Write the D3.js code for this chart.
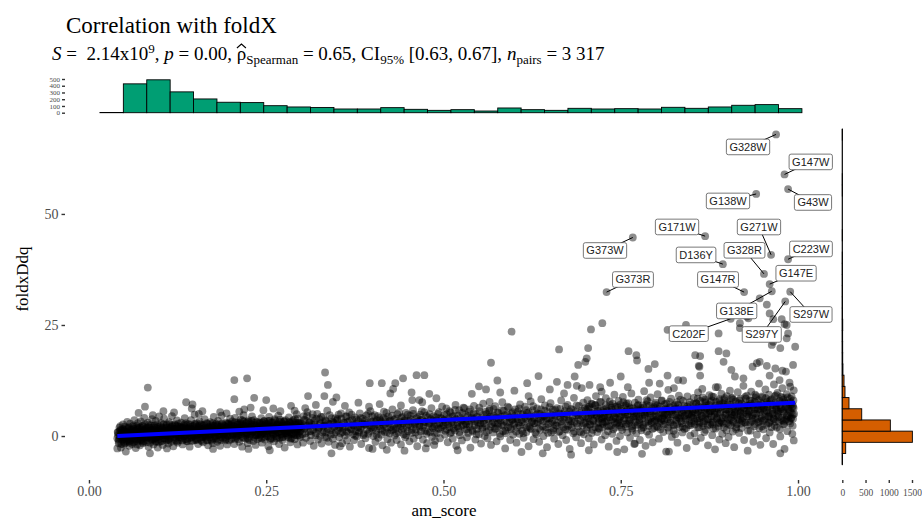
<!DOCTYPE html>
<html>
<head>
<meta charset="utf-8">
<script src="https://cdn.jsdelivr.net/npm/d3@7"></script>
<style>
  body { margin: 0; background: #fff; }
  svg text { font-family: 'Liberation Serif', 'DejaVu Serif', serif; }
</style>
</head>
<body>
<svg id="chart" width="922" height="522"></svg>
<script>
/* ---------------------------- data ---------------------------- */

const xTicks = [0, 0.25, 0.5, 0.75, 1];
const yTicks = [0, 25, 50];
const topHistTicks = [0, 100, 200, 300, 400, 500];
const rightHistTicks = [0, 500, 1000, 1500];

// marginal histogram of am_score (30 bins)
const topBinStart = 0.0155;
const topBinWidth = 0.033;
const topHistCounts = [3, 428, 488, 309, 204, 155, 150, 104, 85, 78, 55, 55, 75, 50, 35,
  45, 25, 70, 45, 35, 65, 55, 60, 55, 80, 65, 85, 110, 120, 60];

// marginal histogram of foldxDdq (30 bins)
const rightBinStart = -6.46;
const rightBinWidth = 2.52;
const rightHistCounts = [2, 73, 1508, 1034, 418, 144, 58, 37, 14, 9, 8, 7, 9, 4, 2,
  5, 1, 2, 2, 0, 2, 0, 0, 0, 2, 1, 0, 0, 0, 1];

// linear fit
const fitLine = { intercept: -0.31, slope: 7.86 };

// scatter, spread of the cloud: [am_score, foldxDdq]
const cloudPoints = [
  // 0.04 - 0.10
  [0.040,-0.5],[0.041,0.8],[0.042,-1.6],[0.043,1.9],[0.044,0.1],[0.045,-2.6],[0.046,1.2],[0.047,-0.9],[0.048,2.6],[0.048,0.4],[0.049,-1.9],[0.049,1.5],
  [0.050,-0.2],[0.051,2.1],[0.052,-3.5],[0.052,0.9],[0.053,-1.3],[0.054,3.2],[0.055,0.2],[0.056,-0.7],[0.056,1.7],[0.057,-2.2],[0.058,2.8],[0.059,0.6],[0.059,-1.0],
  [0.060,1.3],[0.061,-1.8],[0.062,0.0],[0.063,2.4],[0.064,-0.6],[0.064,3.6],[0.065,1.0],[0.066,-2.7],[0.067,0.5],[0.068,1.9],[0.068,-1.2],[0.069,2.9],[0.069,0.2],
  [0.070,-0.4],[0.071,1.6],[0.072,-2.1],[0.072,0.9],[0.073,3.3],[0.074,-0.9],[0.075,2.2],[0.076,0.3],[0.076,-1.6],[0.077,1.2],[0.078,4.1],[0.079,-0.2],[0.079,2.6],
  [0.080,0.7],[0.081,-1.4],[0.082,1.9],[0.083,-0.3],[0.083,3.0],[0.084,-2.4],[0.085,1.1],[0.086,0.1],[0.086,-3.9],[0.087,2.4],[0.088,-0.8],[0.089,1.5],[0.089,3.8],
  [0.090,0.4],[0.091,-1.9],[0.092,2.2],[0.093,-0.5],[0.093,1.0],[0.094,3.4],[0.095,-1.2],[0.096,0.8],[0.097,2.7],[0.097,-2.6],[0.098,1.6],[0.099,-0.1],[0.099,4.4],
  [0.070,5.2],[0.079,6.6],[0.083,10.9],[0.090,4.7],[0.040,-2.8],
  // 0.10 - 0.20
  [0.100,1.2],[0.101,-1.1],[0.102,2.9],[0.103,0.3],[0.104,-2.0],[0.105,1.8],[0.106,3.9],[0.107,0.7],[0.108,-0.6],[0.109,2.3],
  [0.110,0.0],[0.111,1.4],[0.112,-1.7],[0.113,3.1],[0.114,0.9],[0.115,-0.4],[0.116,2.0],[0.117,4.5],[0.118,1.1],[0.119,-2.3],
  [0.120,0.5],[0.121,2.6],[0.122,-0.9],[0.123,1.6],[0.124,3.5],[0.125,-1.5],[0.126,0.2],[0.127,2.1],[0.128,1.0],[0.129,-0.3],
  [0.130,3.0],[0.131,0.8],[0.132,-1.9],[0.133,1.9],[0.134,0.0],[0.135,4.0],[0.136,-0.7],[0.137,2.4],[0.138,1.3],[0.139,-1.2],
  [0.140,2.7],[0.141,0.4],[0.142,-2.4],[0.143,1.5],[0.144,3.6],[0.145,-0.2],[0.146,0.9],[0.147,2.2],[0.148,-1.0],[0.149,4.8],
  [0.150,1.1],[0.151,-0.6],[0.152,2.9],[0.153,0.3],[0.154,-1.8],[0.155,1.8],[0.156,3.3],[0.157,0.6],[0.158,-0.9],[0.159,2.5],
  [0.160,1.4],[0.161,-1.4],[0.162,0.1],[0.163,3.8],[0.164,2.0],[0.165,-0.4],[0.166,1.0],[0.167,2.8],[0.168,-2.1],[0.169,0.7],
  [0.170,1.7],[0.171,3.1],[0.172,-0.8],[0.173,0.4],[0.174,2.3],[0.175,-1.6],[0.176,4.3],[0.177,1.2],[0.178,-0.1],[0.179,2.6],
  [0.180,0.9],[0.181,-1.3],[0.182,3.4],[0.183,1.6],[0.184,0.2],[0.185,-2.2],[0.186,2.1],[0.187,4.6],[0.188,1.0],[0.189,-0.5],
  [0.190,2.4],[0.191,0.5],[0.192,-1.0],[0.193,3.0],[0.194,1.3],[0.195,-1.9],[0.196,0.0],[0.197,2.7],[0.198,1.8],[0.199,3.9],
  [0.137,7.6],[0.146,7.1],[0.145,6.2],[0.120,5.3],[0.160,5.6],[0.194,5.1],[0.175,-2.9],[0.110,-2.8],[0.155,5.0],[0.185,5.4],[0.105,5.6],
  // 0.20 - 0.30
  [0.200,1.5],[0.201,-0.7],[0.202,3.3],[0.203,0.6],[0.204,2.2],[0.205,-1.8],[0.206,4.1],[0.207,1.1],[0.208,-0.2],
  [0.210,2.6],[0.211,0.3],[0.212,-1.3],[0.213,1.9],[0.214,3.7],[0.215,0.9],[0.216,-2.4],[0.217,2.3],[0.218,4.7],
  [0.220,1.2],[0.221,-0.6],[0.222,2.9],[0.223,0.4],[0.224,-1.6],[0.225,3.5],[0.226,1.7],[0.227,-0.1],[0.228,2.1],
  [0.230,4.4],[0.231,0.8],[0.232,-1.1],[0.233,2.5],[0.234,1.4],[0.235,-2.0],[0.236,3.1],[0.237,0.2],[0.238,1.8],
  [0.240,-0.4],[0.241,2.8],[0.242,1.0],[0.243,4.0],[0.244,-1.5],[0.245,0.6],[0.246,2.2],[0.247,3.4],[0.248,-0.8],
  [0.250,1.6],[0.251,0.0],[0.252,2.7],[0.253,-2.3],[0.254,4.3],[0.255,1.3],[0.256,-0.5],[0.257,3.0],[0.258,0.9],
  [0.260,2.0],[0.261,-1.2],[0.262,3.8],[0.263,0.5],[0.264,1.7],[0.265,-0.2],[0.266,2.6],[0.267,4.6],[0.268,-1.8],
  [0.270,1.1],[0.271,3.2],[0.272,0.3],[0.273,-0.9],[0.274,2.4],[0.275,1.5],[0.276,-2.6],[0.277,3.6],[0.278,0.7],
  [0.280,2.1],[0.281,-0.3],[0.282,4.2],[0.283,1.2],[0.284,-1.4],[0.285,2.9],[0.286,0.4],[0.287,3.3],[0.288,1.9],
  [0.290,-0.7],[0.291,2.5],[0.292,0.9],[0.293,4.9],[0.294,-1.9],[0.295,1.6],[0.296,3.0],[0.297,0.1],[0.298,2.2],
  [0.205,12.6],[0.223,13.0],[0.205,8.3],[0.233,8.6],[0.250,8.1],[0.219,6.0],[0.228,6.4],[0.260,6.2],[0.270,5.6],[0.285,6.8],
  [0.246,5.8],[0.212,5.5],[0.290,5.7],[0.255,-3.2],[0.225,-2.9],
  // 0.30 - 0.50
  [0.300,2.8],[0.301,0.4],[0.302,-1.5],[0.303,4.5],[0.304,1.7],[0.305,3.6],[0.306,-0.4],[0.307,2.2],[0.308,5.4],
  [0.310,1.0],[0.311,3.1],[0.312,-1.1],[0.313,0.2],[0.314,2.6],[0.315,4.1],[0.316,1.4],[0.317,-2.2],[0.318,3.4],
  [0.320,0.7],[0.321,2.0],[0.322,5.0],[0.323,-0.8],[0.324,1.8],[0.325,3.8],[0.326,0.0],[0.327,2.9],[0.328,-1.7],
  [0.330,4.3],[0.331,1.2],[0.332,2.4],[0.333,-0.2],[0.334,3.3],[0.335,0.8],[0.336,5.7],[0.337,1.6],[0.338,-1.3],
  [0.340,2.7],[0.341,0.3],[0.342,4.0],[0.343,1.9],[0.344,-0.6],[0.345,3.0],[0.346,2.1],[0.347,-2.0],[0.348,0.9],
  [0.350,3.5],[0.351,1.3],[0.352,4.8],[0.353,-0.3],[0.354,2.3],[0.355,0.6],[0.356,3.9],[0.357,-1.6],[0.358,1.7],
  [0.360,2.9],[0.361,0.1],[0.362,4.4],[0.363,1.0],[0.364,-1.0],[0.365,3.2],[0.366,2.0],[0.367,5.3],[0.368,-2.4],
  [0.370,1.5],[0.371,3.7],[0.372,0.4],[0.373,2.5],[0.374,-0.9],[0.375,4.2],[0.376,1.1],[0.377,2.8],[0.378,-0.1],
  [0.380,3.4],[0.381,0.8],[0.382,5.1],[0.383,1.8],[0.384,-1.8],[0.385,2.2],[0.386,3.9],[0.387,0.2],[0.388,2.6],
  [0.390,-0.5],[0.391,4.6],[0.392,1.4],[0.393,3.0],[0.394,0.5],[0.395,-2.7],[0.396,2.3],[0.397,5.6],[0.398,1.9],
  [0.400,3.3],[0.401,0.0],[0.402,2.0],[0.403,4.7],[0.404,-1.3],[0.405,1.2],[0.406,3.6],[0.407,2.7],[0.408,-0.4],
  [0.410,4.1],[0.411,1.6],[0.412,0.3],[0.413,3.1],[0.414,-2.1],[0.415,2.4],[0.416,5.5],[0.417,0.9],[0.418,3.8],
  [0.420,1.9],[0.421,-0.7],[0.422,4.4],[0.423,2.8],[0.424,0.6],[0.425,3.5],[0.426,-1.5],[0.427,1.3],[0.428,6.0],
  [0.430,2.2],[0.431,0.1],[0.432,3.9],[0.433,1.7],[0.434,-0.9],[0.435,4.9],[0.436,2.5],[0.437,0.8],[0.438,3.2],
  [0.440,-1.9],[0.441,1.4],[0.442,4.3],[0.443,2.9],[0.444,0.4],[0.445,3.6],[0.446,-0.3],[0.447,5.2],[0.448,2.0],
  [0.450,1.1],[0.451,3.4],[0.452,-1.2],[0.453,4.6],[0.454,2.3],[0.455,0.7],[0.456,3.0],[0.457,5.8],[0.458,-0.6],
  [0.460,2.6],[0.461,1.5],[0.462,4.0],[0.463,-2.3],[0.464,3.3],[0.465,0.2],[0.466,2.1],[0.467,4.8],[0.468,1.0],
  [0.470,3.7],[0.471,-0.8],[0.472,2.4],[0.473,5.4],[0.474,1.2],[0.475,3.1],[0.476,0.5],[0.477,-1.6],[0.478,4.2],
  [0.480,2.7],[0.481,0.9],[0.482,3.8],[0.483,6.3],[0.484,-0.2],[0.485,1.8],[0.486,4.5],[0.487,2.2],[0.488,-1.1],
  [0.490,3.5],[0.491,0.6],[0.492,5.0],[0.493,1.7],[0.494,2.9],[0.495,-0.5],[0.496,4.1],[0.497,2.0],[0.498,6.6],
  [0.333,14.3],[0.337,11.5],[0.396,11.9],[0.413,11.9],[0.432,11.9],[0.443,13.0],[0.462,13.7],[0.473,13.7],[0.425,9.6],
  [0.429,10.6],[0.455,9.8],[0.480,9.5],[0.490,8.5],[0.456,8.1],[0.466,8.1],[0.309,9.0],[0.332,9.0],[0.349,8.7],
  [0.344,7.7],[0.361,6.8],[0.342,-3.9],[0.354,-2.3],[0.475,-2.8],[0.487,-2.0],[0.320,7.0],[0.380,7.5],[0.410,7.2],
  [0.440,6.9],[0.470,7.6],[0.305,6.3],[0.395,6.6],[0.420,-3.1],[0.400,-2.9],[0.445,-3.3],
  // 0.50 - 0.70
  [0.500,2.4],[0.501,4.7],[0.502,0.3],[0.503,3.1],[0.504,6.2],[0.505,1.5],[0.506,-1.4],[0.507,3.9],[0.508,2.0],
  [0.510,5.3],[0.511,0.9],[0.512,3.4],[0.513,-0.6],[0.514,2.6],[0.515,4.5],[0.516,1.2],[0.517,7.0],[0.518,-2.2],
  [0.520,3.0],[0.521,1.8],[0.522,5.8],[0.523,0.2],[0.524,4.1],[0.525,2.3],[0.526,-1.0],[0.527,3.6],[0.528,6.4],
  [0.530,1.4],[0.531,4.8],[0.532,2.7],[0.533,-0.3],[0.534,3.3],[0.535,0.7],[0.536,5.5],[0.537,2.1],[0.538,-2.6],
  [0.540,4.2],[0.541,1.0],[0.542,3.7],[0.543,6.8],[0.544,2.5],[0.545,-0.8],[0.546,4.9],[0.547,1.6],[0.548,3.1],
  [0.550,0.4],[0.551,5.6],[0.552,2.9],[0.553,-1.7],[0.554,4.0],[0.555,1.9],[0.556,7.3],[0.557,3.5],[0.558,0.0],
  [0.560,2.3],[0.561,5.0],[0.562,-0.5],[0.563,3.8],[0.564,1.3],[0.565,6.1],[0.566,4.4],[0.567,-2.0],[0.568,2.7],
  [0.570,0.8],[0.571,4.6],[0.572,3.0],[0.573,6.7],[0.574,1.7],[0.575,-1.2],[0.576,5.3],[0.577,2.2],[0.578,3.9],
  [0.580,-0.1],[0.581,4.3],[0.582,2.6],[0.583,7.6],[0.584,1.1],[0.585,5.7],[0.586,3.4],[0.587,-2.8],[0.588,0.6],
  [0.590,4.8],[0.591,2.0],[0.592,6.4],[0.593,3.2],[0.594,-0.9],[0.595,1.5],[0.596,5.1],[0.597,3.7],[0.598,0.3],
  [0.600,2.8],[0.601,6.0],[0.602,4.1],[0.603,-1.5],[0.604,1.9],[0.605,5.5],[0.606,3.0],[0.607,0.5],[0.608,7.1],
  [0.610,3.6],[0.611,1.2],[0.612,4.9],[0.613,-0.4],[0.614,2.5],[0.615,6.6],[0.616,3.9],[0.617,0.9],[0.618,5.2],
  [0.620,-2.3],[0.621,2.1],[0.622,4.4],[0.623,7.8],[0.624,1.6],[0.625,3.3],[0.626,5.8],[0.627,-0.7],[0.628,2.9],
  [0.630,4.7],[0.631,0.4],[0.632,6.2],[0.633,3.1],[0.634,1.8],[0.635,-1.3],[0.636,5.0],[0.637,3.6],[0.638,8.3],
  [0.640,2.2],[0.641,0.0],[0.642,4.5],[0.643,6.9],[0.644,1.4],[0.645,3.8],[0.646,-2.5],[0.647,5.4],[0.648,2.7],
  [0.650,4.0],[0.651,7.4],[0.652,0.8],[0.653,3.3],[0.654,5.9],[0.655,1.7],[0.656,-0.6],[0.657,4.6],[0.658,2.4],
  [0.660,6.3],[0.661,3.0],[0.662,-1.8],[0.663,5.1],[0.664,1.1],[0.665,4.2],[0.666,8.0],[0.667,2.6],[0.668,0.2],
  [0.670,3.7],[0.671,5.6],[0.672,1.5],[0.673,-0.9],[0.674,4.9],[0.675,7.0],[0.676,2.3],[0.677,3.4],[0.678,-2.9],
  [0.680,6.1],[0.681,1.9],[0.682,4.3],[0.683,0.6],[0.684,8.6],[0.685,3.2],[0.686,5.3],[0.687,-0.3],[0.688,2.8],
  [0.690,4.7],[0.691,6.8],[0.692,1.0],[0.693,3.5],[0.694,-1.6],[0.695,5.7],[0.696,2.4],[0.697,7.5],[0.698,0.4],
  [0.596,23.5],[0.567,16.5],[0.576,12.5],[0.618,11.9],[0.634,13.5],[0.660,12.2],[0.663,19.5],[0.685,13.4],[0.690,16.0],
  [0.565,7.7],[0.540,9.5],[0.560,10.5],[0.580,9.8],[0.600,10.2],[0.620,9.0],[0.650,10.5],[0.670,9.6],[0.695,10.8],
  [0.520,-3.2],[0.610,-3.6],[0.640,-3.9],[0.680,-4.2],[0.550,11.2],[0.675,11.5],
  // 0.70 - 0.85
  [0.700,3.0],[0.701,5.9],[0.702,1.3],[0.703,8.1],[0.704,4.1],[0.705,-0.5],[0.706,6.6],[0.707,2.5],[0.708,4.8],[0.709,0.7],
  [0.710,7.2],[0.711,3.6],[0.712,-1.9],[0.713,5.4],[0.714,2.0],[0.715,9.0],[0.716,4.4],[0.717,0.9],[0.718,6.2],[0.719,3.1],
  [0.720,1.6],[0.721,5.0],[0.722,7.7],[0.723,-0.8],[0.724,3.9],[0.725,2.7],[0.726,6.0],[0.727,4.6],[0.728,0.2],[0.729,8.5],
  [0.730,3.3],[0.731,5.6],[0.732,1.1],[0.733,-2.4],[0.734,4.2],[0.735,7.0],[0.736,2.3],[0.737,6.4],[0.738,0.5],[0.739,3.8],
  [0.740,5.2],[0.741,9.3],[0.742,1.9],[0.743,4.0],[0.744,-1.1],[0.745,6.7],[0.746,3.0],[0.747,7.9],[0.748,2.4],[0.749,0.0],
  [0.750,4.5],[0.751,6.1],[0.752,1.4],[0.753,8.8],[0.754,3.5],[0.755,-3.0],[0.756,5.3],[0.757,2.1],[0.758,7.3],[0.759,0.8],
  [0.760,4.9],[0.761,2.8],[0.762,6.5],[0.763,-0.4],[0.764,3.7],[0.765,9.6],[0.766,1.7],[0.767,5.6],[0.768,4.1],[0.769,-1.8],
  [0.770,7.5],[0.771,3.2],[0.772,0.6],[0.773,5.9],[0.774,2.6],[0.775,8.2],[0.776,4.3],[0.777,-0.9],[0.778,6.3],[0.779,1.3],
  [0.780,3.9],[0.781,6.9],[0.782,2.0],[0.783,10.1],[0.784,4.7],[0.785,-2.2],[0.786,5.4],[0.787,1.0],[0.788,7.8],[0.789,3.3],
  [0.790,0.3],[0.791,5.0],[0.792,8.7],[0.793,2.9],[0.794,6.2],[0.795,-1.4],[0.796,4.4],[0.797,1.8],[0.798,7.1],[0.799,3.6],
  [0.800,5.7],[0.801,2.2],[0.802,9.4],[0.803,4.0],[0.804,-0.6],[0.805,6.6],[0.806,1.5],[0.807,3.4],[0.808,8.0],[0.809,5.1],
  [0.810,0.9],[0.811,4.6],[0.812,7.2],[0.813,2.7],[0.814,-3.5],[0.815,6.0],[0.816,3.8],[0.817,10.4],[0.818,1.2],[0.819,5.5],
  [0.820,3.0],[0.821,8.4],[0.822,-0.2],[0.823,4.9],[0.824,6.8],[0.825,2.4],[0.826,5.8],[0.827,0.4],[0.828,3.6],[0.829,7.6],
  [0.830,-1.5],[0.831,4.2],[0.832,9.1],[0.833,2.0],[0.834,6.3],[0.835,3.3],[0.836,5.2],[0.837,0.8],[0.838,7.9],[0.839,4.5],
  [0.840,1.6],[0.841,6.1],[0.842,3.9],[0.843,-2.7],[0.844,8.9],[0.845,5.0],[0.846,2.5],[0.847,7.0],[0.848,0.1],[0.849,4.3],
  [0.708,24.0],[0.724,25.4],[0.700,16.7],[0.702,17.5],[0.704,19.8],[0.688,11.3],[0.706,11.5],[0.721,11.0],[0.723,10.0],
  [0.761,19.1],[0.772,18.2],[0.773,17.0],[0.789,15.1],[0.798,16.2],[0.750,13.4],[0.816,13.6],[0.831,12.6],[0.838,12.5],
  [0.842,25.0],[0.816,23.9],[0.818,-3.5],[0.735,12.0],[0.760,11.0],[0.790,12.0],[0.805,11.8],[0.825,10.8],[0.745,-3.6],
  [0.705,-3.2],[0.780,-4.0],[0.770,-1.7],
  // 0.85 - 1.00
  [0.850,2.9],[0.851,6.0],[0.852,4.1],[0.853,8.6],[0.854,0.6],[0.855,5.3],[0.856,-1.2],[0.857,7.3],[0.858,3.4],[0.859,9.8],[0.859,1.9],
  [0.860,5.7],[0.861,3.0],[0.862,7.9],[0.863,-0.4],[0.864,4.6],[0.865,10.6],[0.866,2.3],[0.867,6.5],[0.868,0.9],[0.869,4.0],[0.869,8.2],
  [0.870,1.4],[0.871,6.9],[0.872,3.7],[0.873,-2.1],[0.874,5.1],[0.875,9.2],[0.876,2.6],[0.877,7.6],[0.878,4.4],[0.879,0.2],[0.879,5.9],
  [0.880,3.2],[0.881,8.8],[0.882,5.5],[0.883,-3.0],[0.884,1.7],[0.885,6.3],[0.886,4.0],[0.887,11.0],[0.888,2.1],[0.889,7.1],[0.889,-0.8],
  [0.890,5.0],[0.891,3.5],[0.892,9.5],[0.893,0.5],[0.894,6.7],[0.895,2.8],[0.896,8.1],[0.897,4.7],[0.898,-1.6],[0.899,6.0],[0.899,1.3],
  [0.900,7.4],[0.901,3.9],[0.902,-0.2],[0.903,5.6],[0.904,10.2],[0.905,2.4],[0.906,8.5],[0.907,4.9],[0.908,1.0],[0.909,6.4],[0.909,3.1],
  [0.910,-2.5],[0.911,5.3],[0.912,7.8],[0.913,2.0],[0.914,4.3],[0.915,9.9],[0.916,6.1],[0.917,0.7],[0.918,3.6],[0.919,8.4],[0.919,5.2],
  [0.920,1.8],[0.921,6.6],[0.922,4.0],[0.923,11.3],[0.924,-0.9],[0.925,7.0],[0.926,3.0],[0.927,5.8],[0.928,9.1],[0.929,2.5],[0.929,-3.3],
  [0.930,6.2],[0.931,4.5],[0.932,8.0],[0.933,1.2],[0.934,10.0],[0.935,3.4],[0.936,6.9],[0.937,-1.3],[0.938,5.1],[0.939,2.7],[0.939,7.7],
  [0.940,4.1],[0.941,9.0],[0.942,0.3],[0.943,6.0],[0.944,3.1],[0.945,11.8],[0.946,5.4],[0.947,-2.0],[0.948,7.4],[0.949,2.2],[0.949,4.8],
  [0.950,8.7],[0.951,1.5],[0.952,6.4],[0.953,3.8],[0.954,10.5],[0.955,-0.5],[0.956,5.7],[0.957,7.2],[0.958,2.9],[0.959,4.3],[0.959,9.3],
  [0.960,0.8],[0.961,6.8],[0.962,3.5],[0.963,8.3],[0.964,5.0],[0.965,-1.8],[0.966,11.6],[0.967,2.3],[0.968,7.5],[0.969,4.6],[0.969,6.1],
  [0.970,1.9],[0.971,9.7],[0.972,5.5],[0.973,3.2],[0.974,7.9],[0.975,-0.1],[0.976,6.5],[0.977,4.1],[0.978,10.8],[0.979,2.6],[0.979,8.6],
  [0.980,5.9],[0.981,-2.9],[0.982,7.3],[0.983,3.7],[0.984,9.4],[0.985,1.1],[0.986,6.2],[0.987,4.4],[0.988,12.0],[0.989,2.8],[0.989,7.0],
  [0.990,5.3],[0.991,8.9],[0.992,0.5],[0.993,6.7],[0.993,3.9],[0.994,10.3],[0.994,-1.0],
  [0.855,18.2],[0.862,18.0],[0.860,15.8],[0.861,15.6],[0.862,13.6],[0.884,11.0],[0.888,19.1],[0.899,18.6],[0.895,16.7],
  [0.906,14.9],[0.911,13.4],[0.923,13.0],[0.936,15.6],[0.942,16.4],[0.946,16.7],[0.956,15.8],[0.968,15.2],[0.978,14.7],
  [0.993,16.0],[0.974,12.6],[0.983,14.5],[0.989,11.1],[0.960,13.6],[0.951,23.5],[0.965,21.2],[0.963,20.5],[0.975,19.8],
  [0.984,22.0],[0.986,23.1],[0.996,20.1],[0.888,23.1],[0.918,24.3],[0.918,25.4],[0.930,26.5],[0.928,26.9],[0.946,31.0],
  [0.956,29.6],[0.960,27.6],[0.965,26.3],[0.977,26.3],[0.981,25.2],[0.984,25.0],[0.975,-3.9]
];

// scatter, dense core of the cloud: [am_score, foldxDdq]
const corePoints = [
  [.0405,.9],[.0425,-.8],[.0445,1.4],[.0465,-.2],[.0485,.5],[.0495,-1.3],
  [.0505,1.0],[.0525,-.4],[.0545,.7],[.0565,2.0],[.0575,-1.5],[.0595,.1],
  [.0605,.6],[.0625,1.7],[.0645,-1.1],[.0655,.3],[.0675,2.2],[.0695,-.7],
  [.0705,1.0],[.0725,-.1],[.0745,1.8],[.0755,-1.3],[.0775,.5],[.0795,1.4],
  [.0805,-.6],[.0825,.9],[.0845,2.0],[.0855,-.2],[.0875,1.3],[.0895,-1.0],
  [.0905,.8],[.0925,1.9],[.0945,-.4],[.0955,.5],[.0975,1.1],[.0985,-1.4],
  [.1005,.6],[.1025,1.9],[.1045,-.5],[.1065,1.2],[.1085,.2],[.1095,2.6],
  [.1105,1.0],[.1125,-.8],[.1145,1.7],[.1165,.4],[.1175,2.4],[.1195,-.2],
  [.1205,1.5],[.1225,.1],[.1245,2.2],[.1265,-1.0],[.1275,.9],[.1295,1.9],
  [.1305,-.4],[.1325,1.2],[.1345,2.6],[.1355,.3],[.1375,-1.1],[.1395,1.6],
  [.1405,.8],[.1425,2.0],[.1445,-.3],[.1455,1.3],[.1475,.1],[.1495,2.8],
  [.1505,-.9],[.1525,1.1],[.1545,.4],[.1555,2.3],[.1575,1.5],[.1595,-.2],
  [.1605,.9],[.1625,2.5],[.1645,.0],[.1655,1.6],[.1675,-1.0],[.1695,1.9],
  [.1705,.5],[.1725,1.3],[.1745,2.9],[.1755,-.6],[.1775,.8],[.1795,1.7],
  [.1805,2.2],[.1825,.3],[.1845,1.4],[.1855,-.9],[.1875,2.7],[.1895,.6],
  [.1905,1.2],[.1925,-.3],[.1945,2.0],[.1955,.9],[.1975,2.9],[.1995,.2],
  [.2005,2.4],[.2025,.5],[.2045,1.6],[.2065,-.6],[.2085,3.0],[.2095,1.1],
  [.2105,.2],[.2125,2.8],[.2145,1.3],[.2165,3.5],[.2175,-.4],[.2195,1.8],
  [.2205,2.1],[.2225,.7],[.2245,3.2],[.2265,-.9],[.2275,1.4],[.2295,2.6],
  [.2305,1.0],[.2325,3.6],[.2345,.3],[.2355,2.0],[.2375,-.7],[.2395,1.5],
  [.2405,2.3],[.2425,.4],[.2445,3.0],[.2455,1.2],[.2475,-.2],[.2495,2.7],
  [.2505,.9],[.2525,2.1],[.2545,3.4],[.2555,-.8],[.2575,1.6],[.2595,.5],
  [.2605,3.1],[.2625,1.3],[.2645,-.5],[.2655,2.4],[.2675,.8],[.2695,3.7],
  [.2705,2.0],[.2725,-.3],[.2745,1.4],[.2755,3.3],[.2775,.6],[.2795,2.5],
  [.2805,1.0],[.2825,3.0],[.2845,-.6],[.2855,1.7],[.2875,2.6],[.2895,.3],
  [.2905,3.8],[.2925,1.5],[.2945,.1],[.2955,2.9],[.2975,1.1],[.2995,2.2],
  [.3005,1.9],[.3035,3.7],[.3055,.6],[.3075,4.6],[.3095,2.4],
  [.3105,3.0],[.3125,1.1],[.3155,4.9],[.3175,2.5],[.3195,.2],
  [.3205,3.9],[.3235,1.6],[.3255,2.7],[.3275,4.3],[.3295,.8],
  [.3305,2.2],[.3335,3.5],[.3355,-.4],[.3375,2.9],[.3395,4.7],
  [.3405,1.3],[.3435,3.2],[.3455,.4],[.3475,4.0],[.3495,2.6],
  [.3505,3.8],[.3535,1.9],[.3555,5.1],[.3575,.9],[.3595,3.0],
  [.3605,2.1],[.3635,4.4],[.3655,.7],[.3675,3.4],[.3695,1.6],
  [.3705,4.8],[.3735,2.3],[.3755,.1],[.3775,3.7],[.3795,2.0],
  [.3805,1.2],[.3835,4.1],[.3855,2.8],[.3875,.5],[.3895,3.5],
  [.3905,2.6],[.3935,5.0],[.3955,1.0],[.3975,3.3],[.3995,4.4],
  [.4005,1.7],[.4035,3.0],[.4055,.3],[.4075,4.5],[.4095,2.2],
  [.4105,3.6],[.4135,1.2],[.4155,4.0],[.4175,2.7],[.4195,5.2],
  [.4205,.9],[.4235,3.3],[.4255,2.0],[.4275,4.6],[.4295,1.5],
  [.4305,3.7],[.4335,.6],[.4355,2.9],[.4375,5.3],[.4395,2.2],
  [.4405,4.1],[.4435,1.8],[.4455,3.4],[.4475,.2],[.4495,4.8],
  [.4505,2.6],[.4535,3.8],[.4555,1.4],[.4575,5.0],[.4595,3.0],
  [.4605,.8],[.4635,4.3],[.4655,2.4],[.4675,3.6],[.4695,5.6],
  [.4705,1.9],[.4735,3.2],[.4755,4.6],[.4775,1.0],[.4795,2.8],
  [.4805,4.9],[.4835,2.1],[.4855,3.5],[.4875,.7],[.4895,4.2],
  [.4905,2.5],[.4935,5.4],[.4955,1.6],[.4975,3.9],[.4995,3.0],
  [.5005,3.6],[.5025,1.2],[.5045,4.9],[.5065,2.7],[.5085,5.6],[.5095,.6],
  [.5105,3.0],[.5125,4.4],[.5145,1.7],[.5165,5.9],[.5175,3.8],[.5195,2.2],
  [.5205,4.6],[.5225,.9],[.5245,3.4],[.5265,5.2],[.5275,2.5],[.5295,6.3],
  [.5305,3.1],[.5325,1.5],[.5345,4.5],[.5365,2.6],[.5375,6.0],[.5395,3.9],
  [.5405,1.3],[.5425,5.1],[.5445,3.3],[.5465,.4],[.5475,4.3],[.5495,2.3],
  [.5505,6.4],[.5525,3.6],[.5545,1.6],[.5565,4.8],[.5575,2.9],[.5595,5.5],
  [.5605,.9],[.5625,3.9],[.5645,5.7],[.5665,2.1],[.5675,4.4],[.5695,3.2],
  [.5705,6.1],[.5725,1.6],[.5745,4.0],[.5765,2.8],[.5775,5.2],[.5795,.5],
  [.5805,3.5],[.5825,5.8],[.5845,2.3],[.5865,4.7],[.5875,1.2],[.5895,3.0],
  [.5905,6.6],[.5925,4.2],[.5945,1.9],[.5965,3.6],[.5975,5.4],[.5995,2.6],
  [.6005,4.5],[.6025,1.0],[.6045,3.8],[.6065,6.2],[.6075,2.3],[.6095,5.0],
  [.6105,3.1],[.6125,.6],[.6145,4.2],[.6165,5.8],[.6175,2.0],[.6195,3.7],
  [.6205,5.4],[.6225,1.7],[.6245,3.2],[.6265,6.7],[.6275,4.1],[.6295,.8],
  [.6305,2.8],[.6325,5.1],[.6345,3.9],[.6365,1.4],[.6375,6.0],[.6395,4.4],
  [.6405,3.3],[.6425,5.7],[.6445,2.0],[.6465,4.0],[.6475,.7],[.6495,6.5],
  [.6505,2.9],[.6525,4.8],[.6545,1.2],[.6565,3.6],[.6575,5.9],[.6595,2.3],
  [.6605,4.5],[.6625,.9],[.6645,6.1],[.6665,3.3],[.6675,5.0],[.6695,2.0],
  [.6705,4.2],[.6725,6.6],[.6745,1.4],[.6765,3.8],[.6775,5.5],[.6795,2.6],
  [.6805,3.4],[.6825,5.9],[.6845,1.0],[.6865,4.6],[.6875,6.9],[.6895,2.2],
  [.6905,3.9],[.6925,5.2],[.6945,.8],[.6965,4.4],[.6975,2.9],[.6995,6.3],
  [.7005,4.4],[.7025,2.0],[.7045,6.5],[.7065,3.3],[.7085,7.3],[.7095,5.2],
  [.7105,1.4],[.7125,4.8],[.7145,6.9],[.7165,2.8],[.7175,5.6],[.7195,3.9],
  [.7205,7.6],[.7225,4.2],[.7245,1.9],[.7265,5.4],[.7275,3.2],[.7295,6.2],
  [.7305,2.3],[.7325,4.9],[.7345,7.8],[.7365,3.6],[.7375,5.9],[.7395,1.5],
  [.7405,4.4],[.7425,6.6],[.7445,2.8],[.7465,5.1],[.7475,3.6],[.7495,7.1],
  [.7505,1.9],[.7525,5.6],[.7545,4.0],[.7565,6.9],[.7575,2.7],[.7595,4.8],
  [.7605,7.4],[.7625,3.3],[.7645,5.5],[.7665,1.2],[.7675,6.3],[.7695,4.5],
  [.7705,2.4],[.7725,5.0],[.7745,7.0],[.7765,3.6],[.7775,5.8],[.7795,1.8],
  [.7805,4.6],[.7825,6.4],[.7845,3.0],[.7865,8.1],[.7875,5.2],[.7895,2.3],
  [.7905,6.8],[.7925,4.0],[.7945,1.6],[.7965,5.6],[.7975,3.3],[.7995,7.5],
  [.8005,4.4],[.8025,2.0],[.8045,6.1],[.8065,3.8],[.8075,7.9],[.8095,5.3],
  [.8105,2.6],[.8125,5.0],[.8145,7.3],[.8165,1.9],[.8175,4.2],[.8195,6.5],
  [.8205,3.5],[.8225,5.7],[.8245,1.2],[.8265,7.0],[.8275,4.7],[.8295,2.7],
  [.8305,6.0],[.8325,3.9],[.8345,8.2],[.8365,5.4],[.8375,2.1],[.8395,6.8],
  [.8405,4.6],[.8425,1.8],[.8445,5.9],[.8465,3.4],[.8475,7.6],[.8495,5.0],
  [.8505,4.7],[.8525,7.2],[.8545,2.6],[.8555,6.0],[.8575,3.9],[.8585,8.4],[.8595,5.6],
  [.8605,2.0],[.8625,6.4],[.8645,4.4],[.8655,8.7],[.8675,3.3],[.8685,5.9],[.8695,7.5],
  [.8705,4.9],[.8725,2.4],[.8745,7.0],[.8755,5.5],[.8775,3.0],[.8785,8.9],[.8795,6.3],
  [.8805,1.7],[.8825,4.8],[.8845,7.7],[.8855,3.8],[.8875,6.1],[.8885,2.9],[.8895,8.3],
  [.8905,5.4],[.8925,3.2],[.8945,7.4],[.8955,1.9],[.8975,6.0],[.8985,4.2],[.8995,9.0],
  [.9005,5.9],[.9025,2.6],[.9045,7.0],[.9055,4.1],[.9075,8.6],[.9085,3.4],[.9095,6.7],
  [.9105,4.8],[.9125,1.6],[.9145,6.4],[.9155,3.7],[.9175,8.0],[.9185,5.5],[.9195,2.8],
  [.9205,7.3],[.9225,5.0],[.9245,3.1],[.9255,8.8],[.9275,4.4],[.9285,6.8],[.9295,1.2],
  [.9305,5.3],[.9325,3.0],[.9345,7.9],[.9355,4.7],[.9375,6.5],[.9385,2.2],[.9395,9.3],
  [.9405,6.2],[.9425,3.8],[.9445,8.1],[.9455,1.8],[.9475,5.9],[.9485,4.0],[.9495,7.1],
  [.9505,3.4],[.9525,5.6],[.9545,8.5],[.9555,2.5],[.9575,6.6],[.9585,4.5],[.9595,7.8],
  [.9605,5.1],[.9625,2.0],[.9645,6.9],[.9655,4.0],[.9675,9.0],[.9685,3.2],[.9695,5.8],
  [.9705,7.4],[.9725,4.3],[.9745,1.5],[.9755,6.1],[.9775,3.6],[.9785,8.2],[.9795,5.2],
  [.9805,2.7],[.9825,6.6],[.9845,4.6],[.9855,8.7],[.9875,3.3],[.9885,5.7],[.9895,7.6],
  [.9905,4.1],[.9915,6.4],[.9925,2.3],[.9935,8.0],[.9945,5.0]
];

// scatter, darkest part of the band (left end and right end): [am_score, foldxDdq]
const bandPoints = [
  [.0412,.2],[.0418,-1.1],[.0433,1.1],[.0438,-.4],[.0452,.6],[.0457,-1.8],[.0471,1.6],[.0476,.0],[.0491,-.7],[.0494,1.0],[.0443,2.2],[.0462,.3],
  [.0502,.4],[.0508,-1.6],[.0514,1.3],[.0527,.1],[.0533,-.9],[.0541,1.8],[.0549,-.3],[.0561,.9],[.0568,-1.2],[.0583,.2],[.0588,1.4],[.0597,-.5],
  [.0603,-.4],[.0611,.9],[.0617,2.1],[.0628,-1.4],[.0632,.5],[.0641,1.5],[.0653,-.8],[.0662,.2],[.0671,1.2],[.0679,-1.9],[.0684,.7],[.0693,1.8],
  [.0702,.3],[.0713,-1.0],[.0718,1.9],[.0729,.6],[.0736,-.5],[.0748,1.4],[.0752,.0],[.0763,2.3],[.0771,-1.2],[.0782,.8],[.0788,-.3],[.0797,1.1],
  [.0803,1.7],[.0809,-.9],[.0816,.4],[.0829,1.1],[.0834,-.1],[.0842,2.5],[.0851,.6],[.0862,-1.5],[.0869,1.0],[.0877,-.4],[.0884,1.9],[.0892,.2],
  [.0902,-.7],[.0911,1.3],[.0916,.0],[.0928,2.4],[.0936,-1.3],[.0941,.6],[.0951,1.7],[.0958,-.2],[.0967,.9],[.0979,2.0],[.0983,-.8],[.0991,.4],
  [.1002,.0],[.1011,2.2],[.1018,.9],[.1027,-1.2],[.1036,1.5],[.1042,.4],[.1053,2.6],[.1061,-.5],[.1072,1.0],[.1078,.2],[.1087,1.8],[.1093,-1.0],
  [.1103,1.9],[.1108,.3],[.1121,-.9],[.1129,1.2],[.1136,2.7],[.1143,.0],[.1152,1.4],[.1158,-1.3],[.1169,.7],[.1177,2.1],[.1184,.5],[.1192,1.6],
  [.1202,-.6],[.1213,1.0],[.1219,2.4],[.1228,.4],[.1236,-1.2],[.1241,1.7],[.1253,.8],[.1262,2.8],[.1271,-.3],[.1279,1.3],[.1286,.1],[.1294,2.0],
  [.1303,.5],[.1309,1.8],[.1316,-1.0],[.1328,.9],[.1337,2.3],[.1344,-.1],[.1351,1.1],[.1363,.3],[.1368,2.9],[.1376,1.5],[.1385,-.7],[.1398,.7],
  [.1404,1.9],[.1411,-.5],[.1419,1.0],[.1426,2.6],[.1434,.2],[.1448,1.6],[.1453,-1.1],[.1461,.6],[.1468,2.2],[.1479,1.2],[.1487,-.1],[.1493,1.8],
  [.1502,2.5],[.1509,.3],[.1517,1.4],[.1528,-.8],[.1533,.9],[.1542,2.0],[.1551,1.2],[.1563,-.4],[.1569,2.7],[.1577,.5],[.1586,1.6],[.1591,-1.2],
  [.1603,1.1],[.1611,2.3],[.1617,-.2],[.1623,.8],[.1637,1.8],[.1643,.4],[.1658,2.9],[.1662,-.9],[.1671,1.3],[.1679,.2],[.1688,2.1],[.1697,1.0],
  [.1702,-.3],[.1714,1.5],[.1719,2.6],[.1728,.6],[.1733,-1.1],[.1741,1.9],[.1752,.9],[.1763,2.3],[.1768,.0],[.1782,1.2],[.1788,-.6],[.1796,2.8],
  [.1804,1.4],[.1809,.2],[.1818,2.5],[.1826,-.8],[.1836,1.0],[.1842,2.0],[.1853,.5],[.1861,1.6],[.1868,-.2],[.1879,2.9],[.1883,.8],[.1892,1.9],
  [.1903,.3],[.1911,2.2],[.1918,1.0],[.1927,-.7],[.1938,1.7],[.1943,.6],[.1952,2.8],[.1961,.1],[.1967,1.4],[.1978,-1.0],[.1984,2.4],[.1993,1.2],
  [.2003,1.0],[.2012,2.7],[.2018,-.4],[.2027,1.6],[.2036,.3],[.2042,2.2],[.2053,1.2],[.2061,3.1],[.2072,.0],[.2078,1.9],[.2087,.7],[.2093,2.5],
  [.2103,1.4],[.2108,-.7],[.2121,2.0],[.2129,.9],[.2136,3.0],[.2143,.4],[.2152,1.8],[.2158,2.6],[.2169,-.2],[.2177,1.2],[.2184,3.3],[.2192,.6],
  [.2202,2.3],[.2213,.1],[.2219,1.5],[.2228,3.1],[.2236,.8],[.2241,-.6],[.2253,2.0],[.2262,1.1],[.2271,2.8],[.2279,.4],[.2286,1.7],[.2294,3.4],
  [.2303,.6],[.2309,2.1],[.2316,1.2],[.2328,-.3],[.2337,2.9],[.2344,1.6],[.2351,.2],[.2363,2.4],[.2368,1.0],[.2376,3.2],[.2385,.5],[.2398,1.9],
  [.2404,1.3],[.2411,3.0],[.2419,.2],[.2426,1.9],[.2434,-.5],[.2448,2.5],[.2453,.9],[.2461,1.6],[.2468,3.3],[.2479,.5],[.2487,2.2],[.2493,1.1],
  [.2502,2.8],[.2509,.6],[.2517,1.8],[.2528,3.4],[.2533,-.1],[.2542,1.2],[.2551,2.4],[.2563,.8],[.2569,2.0],[.2577,-.6],[.2586,3.0],[.2591,1.5],
  [.2603,.4],[.2611,2.2],[.2617,1.3],[.2623,3.5],[.2637,.0],[.2643,1.9],[.2658,2.7],[.2662,.9],[.2671,1.6],[.2679,3.1],[.2688,-.4],[.2697,2.3],
  [.2702,1.7],[.2714,.5],[.2719,2.9],[.2728,1.0],[.2733,2.2],[.2741,-.2],[.2752,3.3],[.2763,1.4],[.2768,.7],[.2782,2.6],[.2788,1.8],[.2796,.1],
  [.2804,2.5],[.2809,1.3],[.2818,.3],[.2826,3.2],[.2836,1.9],[.2842,.8],[.2853,2.2],[.2861,-.5],[.2868,1.5],[.2879,3.6],[.2883,.6],[.2892,2.0],
  [.2903,1.2],[.2911,3.0],[.2918,.2],[.2927,2.3],[.2938,1.6],[.2943,3.9],[.2952,.7],[.2961,2.6],[.2967,1.9],[.2978,-.3],[.2984,2.9],[.2993,1.4],
  [.7013,4.0],[.7038,6.1],[.7062,2.6],[.7088,5.0],[.7112,3.4],[.7136,7.0],[.7163,4.6],[.7187,1.8],
  [.7214,5.8],[.7238,3.0],[.7261,4.3],[.7289,6.9],[.7311,4.0],[.7337,2.2],[.7362,5.5],[.7386,7.3],
  [.7413,3.1],[.7439,5.1],[.7464,6.4],[.7488,4.3],[.7512,2.9],[.7536,7.6],[.7563,4.8],[.7589,5.9],
  [.7614,3.6],[.7637,6.2],[.7661,2.2],[.7686,5.0],[.7713,4.4],[.7738,6.8],[.7762,3.0],[.7787,5.3],
  [.7811,2.5],[.7836,4.9],[.7864,7.1],[.7889,3.7],[.7912,5.6],[.7938,3.2],[.7963,6.5],[.7986,4.6],
  [.8014,6.9],[.8037,3.0],[.8062,5.1],[.8088,4.0],[.8113,3.5],[.8139,6.2],[.8162,4.8],[.8187,7.7],
  [.8211,5.3],[.8236,2.6],[.8263,6.1],[.8288,4.2],[.8312,7.0],[.8338,4.6],[.8361,2.9],[.8389,5.7],
  [.8413,3.6],[.8437,6.6],[.8464,4.9],[.8486,2.4],
  [.8512,5.5],[.8538,3.3],[.8563,7.4],[.8587,4.8],[.8596,6.7],[.8614,4.0],[.8638,6.0],[.8661,2.9],[.8688,7.8],[.8697,5.2],
  [.8712,6.3],[.8736,3.8],[.8763,5.6],[.8788,8.0],[.8796,2.6],[.8813,4.4],[.8837,6.9],[.8862,5.2],[.8889,3.1],[.8894,7.9],
  [.8911,6.5],[.8936,4.1],[.8964,8.5],[.8987,5.0],[.8993,2.9],[.9012,7.1],[.9038,3.6],[.9063,5.3],[.9086,8.2],[.9094,4.7],
  [.9113,6.0],[.9137,2.7],[.9162,7.4],[.9189,4.5],[.9197,5.8],[.9211,3.4],[.9239,6.3],[.9264,8.4],[.9288,4.9],[.9296,6.9],
  [.9314,5.6],[.9336,7.3],[.9361,3.9],[.9387,6.0],[.9398,8.6],[.9412,5.0],[.9438,7.0],[.9463,3.3],[.9487,6.7],[.9493,8.9],
  [.9513,6.2],[.9537,4.4],[.9562,7.7],[.9588,5.3],[.9596,3.0],[.9611,8.1],[.9636,5.9],[.9664,3.8],[.9689,6.4],[.9694,9.2],
  [.9714,4.9],[.9738,6.9],[.9762,8.8],[.9786,5.6],[.9797,3.4],[.9813,7.6],[.9837,4.2],[.9863,6.0],[.9888,8.4],[.9896,3.9],
  [.9912,7.2],[.9927,4.8],[.9938,6.3]
];

// labelled mutations
const labelNames = ['G328W', 'G147W', 'G43W', 'G138W', 'G171W', 'G373W', 'G271W', 'C223W', 'D136Y',
  'G328R', 'G147E', 'G373R', 'G147R', 'G138E', 'S297W', 'S297Y', 'C202F'];
const labelX = [0.969, 0.981, 0.986, 0.941, 0.869, 0.767, 0.962, 0.986, 0.894,
  0.952, 0.960, 0.730, 0.924, 0.963, 0.989, 0.982, 0.905];
const labelY = [67.9, 58.9, 55.6, 54.5, 45.0, 44.7, 40.8, 39.8, 38.7,
  36.5, 34.2, 32.4, 32.4, 32.6, 32.5, 30.3, 26.4];

/* ---------------------------- layout ---------------------------- */

// repelled label offsets from their point, in px
const labelNudge = [[-28, 12.5], [26.2, -12.5], [24.9, 13.4], [-28.2, 7], [-28.1, -9.2], [-27.8, 13],
  [-12.1, -27.8], [22.9, -10.3], [-26.8, -9.2], [-19.5, -23.6], [26.4, -10.9], [26.4, -12.6],
  [-26.1, -12.6], [-35.1, 19.7], [20.8, 22.8], [-23.5, 33], [-41.9, 14.9]];

const svg = d3.select('#chart');
const tickColor = '#333333';
const tickLabelColor = '#4d4d4d';

const x = d3.scaleLinear().domain([-0.0338, 1.0437]).range([65, 829]);
const y = d3.scaleLinear().domain([-9.9, 71.6]).range([480, 118]);
const topY = d3.scaleLinear().domain([0, 500]).range([112.7, 79]);
const rightX = d3.scaleLinear().domain([0, 1500]).range([842.3, 912]);

const styleAxis = (g, size) => {
  g.select('.domain').remove();
  g.selectAll('.tick line').attr('stroke', tickColor).attr('stroke-width', 1.4);
  g.selectAll('.tick text')
    .attr('fill', tickLabelColor)
    .style('font-family', "'Liberation Serif', serif")
    .style('font-size', size);
};

/* title + subtitle */
svg.append('text')
  .attr('x', 66).attr('y', 33)
  .style('font-size', '23px')
  .attr('fill', '#000')
  .text('Correlation with foldX');

const subBaseline = 60;
const subParts = [
  { t: 'S', it: true }, { t: ' =\u00a0 2.14x10' }, { t: '9', shift: -7 }, { t: ', ' },
  { t: 'p', it: true }, { t: ' = 0.00, ' }, { t: 'ρ', hat: true }, { t: 'Spearman', shift: 4 },
  { t: ' = 0.65, CI' }, { t: '95%', shift: 4 }, { t: ' [0.63, 0.67], ' },
  { t: 'n', it: true }, { t: 'pairs', shift: 4 }, { t: ' = 3\u00a0317' }
];
const subtitle = svg.append('text')
  .attr('x', 52).attr('y', subBaseline)
  .style('font-size', '19px')
  .attr('fill', '#000');
let curShift = 0;
subParts.forEach((p) => {
  const s = p.shift || 0;
  subtitle.append('tspan')
    .attr('class', p.hat ? 'hatted' : null)
    .attr('dy', s - curShift)
    .style('font-style', p.it ? 'italic' : 'normal')
    .style('font-size', p.shift ? '13px' : '19px')
    .text(p.t);
  curShift = s;
});

// circumflex over rho, drawn as a small path
const rhoBox = subtitle.select('.hatted').node().getBBox();
const hatX = rhoBox.x + rhoBox.width / 2;
svg.append('path')
  .attr('d', `M${hatX - 4.5},${subBaseline - 12} L${hatX},${subBaseline - 16} L${hatX + 4.5},${subBaseline - 12}`)
  .attr('fill', 'none')
  .attr('stroke', '#000')
  .attr('stroke-width', 1.1);

/* top marginal histogram */
svg.append('g')
  .selectAll('rect')
  .data(topHistCounts)
  .join('rect')
  .attr('x', (d, i) => x(topBinStart + i * topBinWidth))
  .attr('width', x(topBinWidth) - x(0))
  .attr('y', (d) => topY(d))
  .attr('height', (d) => topY(0) - topY(d))
  .attr('fill', '#009E73')
  .attr('stroke', '#000')
  .attr('stroke-width', 0.9);

svg.append('g')
  .attr('transform', `translate(${x.range()[0]},0)`)
  .call(d3.axisLeft(topY).tickValues(topHistTicks).tickSize(3).tickPadding(2))
  .call((g) => styleAxis(g, '7px'));

/* right marginal histogram */
svg.append('line')
  .attr('x1', rightX(0)).attr('x2', rightX(0))
  .attr('y1', y(rightBinStart))
  .attr('y2', y(rightBinStart + rightHistCounts.length * rightBinWidth))
  .attr('stroke', '#000')
  .attr('stroke-width', 1.2);

svg.append('g')
  .selectAll('rect')
  .data(rightHistCounts)
  .join('rect')
  .attr('x', rightX(0))
  .attr('width', (d) => rightX(d) - rightX(0))
  .attr('y', (d, i) => y(rightBinStart + (i + 1) * rightBinWidth))
  .attr('height', y(0) - y(rightBinWidth))
  .attr('fill', '#D55E00')
  .attr('stroke', '#000')
  .attr('stroke-width', 0.9);

svg.append('g')
  .attr('transform', `translate(0,${y.range()[0]})`)
  .call(d3.axisBottom(rightX).tickValues(rightHistTicks).tickFormat(d3.format('d')).tickSize(3).tickPadding(6))
  .call((g) => styleAxis(g, '9.5px'));

/* main axes */
svg.append('g')
  .attr('transform', `translate(0,${y.range()[0]})`)
  .call(d3.axisBottom(x).tickValues(xTicks).tickFormat(d3.format('.2f')).tickSize(3.5).tickPadding(3))
  .call((g) => styleAxis(g, '14px'));

svg.append('g')
  .attr('transform', `translate(${x.range()[0]},0)`)
  .call(d3.axisLeft(y).tickValues(yTicks).tickSize(3.5).tickPadding(3))
  .call((g) => styleAxis(g, '14px'));

svg.append('text')
  .attr('x', 444).attr('y', 516)
  .attr('text-anchor', 'middle')
  .style('font-size', '17px')
  .text('am_score');

svg.append('text')
  .attr('transform', 'translate(28,279) rotate(-90)')
  .attr('text-anchor', 'middle')
  .style('font-size', '17px')
  .text('foldxDdq');

/* points */
const labelled = labelNames.map((name, i) => ({ name, x: labelX[i], y: labelY[i], nudge: labelNudge[i] }));
const allPoints = cloudPoints.concat(corePoints, bandPoints)
  .map((d) => ({ x: d[0], y: d[1] }))
  .concat(labelled);

svg.append('g')
  .selectAll('circle')
  .data(allPoints)
  .join('circle')
  .attr('cx', (d) => x(d.x))
  .attr('cy', (d) => y(d.y))
  .attr('r', 3.9)
  .attr('fill', '#000')
  .attr('fill-opacity', 0.45);

/* regression line */
const xExtent = d3.extent(allPoints, (d) => d.x);
svg.append('line')
  .attr('x1', x(xExtent[0])).attr('y1', y(fitLine.intercept + fitLine.slope * xExtent[0]))
  .attr('x2', x(xExtent[1])).attr('y2', y(fitLine.intercept + fitLine.slope * xExtent[1]))
  .attr('stroke', '#0000FF')
  .attr('stroke-width', 4);

/* repelled labels */
const labelG = svg.append('g');
labelG.selectAll('line')
  .data(labelled)
  .join('line')
  .attr('x1', (d) => x(d.x))
  .attr('y1', (d) => y(d.y))
  .attr('x2', (d) => x(d.x) + d.nudge[0])
  .attr('y2', (d) => y(d.y) + d.nudge[1])
  .attr('stroke', '#000')
  .attr('stroke-width', 1);

const lab = labelG.selectAll('g.lab')
  .data(labelled)
  .join('g')
  .attr('class', 'lab')
  .attr('transform', (d) => `translate(${x(d.x) + d.nudge[0]},${y(d.y) + d.nudge[1]})`);

lab.append('rect');
lab.append('text')
  .attr('text-anchor', 'middle')
  .attr('dy', '0.36em')
  .style('font-family', "'Liberation Sans', Arial, sans-serif")
  .style('font-size', '11px')
  .attr('fill', '#222')
  .text((d) => d.name);

lab.each(function () {
  const g = d3.select(this);
  const w = g.select('text').node().getComputedTextLength() + 6;
  g.select('rect')
    .attr('x', -w / 2).attr('y', -7.8)
    .attr('width', w).attr('height', 15.6)
    .attr('rx', 2)
    .attr('fill', '#fff')
    .attr('stroke', '#555')
    .attr('stroke-width', 0.8);
});
</script>
</body>
</html>
